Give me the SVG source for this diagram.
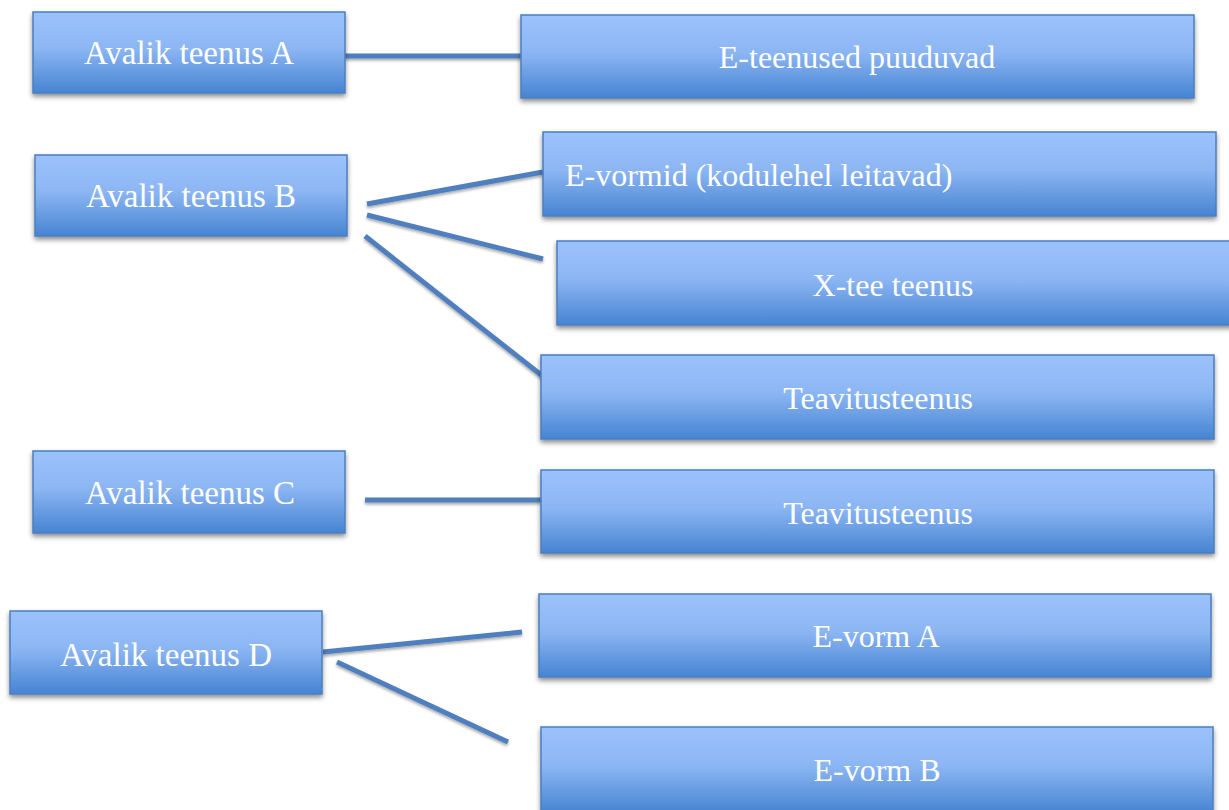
<svg xmlns="http://www.w3.org/2000/svg" width="1229" height="810" viewBox="0 0 1229 810">
<defs>
<linearGradient id="g" x1="0" y1="0" x2="0" y2="1">
<stop offset="0" stop-color="#9cc2fc"/>
<stop offset="0.45" stop-color="#8cb6f3"/>
<stop offset="1" stop-color="#4684d2"/>
</linearGradient>
<filter id="sh" x="-5%" y="-10%" width="110%" height="130%">
<feGaussianBlur in="SourceAlpha" stdDeviation="2.5"/>
<feOffset dx="0" dy="3" result="b"/>
<feComponentTransfer><feFuncA type="linear" slope="0.45"/></feComponentTransfer>
<feMerge><feMergeNode/><feMergeNode in="SourceGraphic"/></feMerge>
</filter>
<filter id="lsh" filterUnits="userSpaceOnUse" x="0" y="0" width="1229" height="810">
<feGaussianBlur in="SourceAlpha" stdDeviation="1.5"/>
<feOffset dx="0" dy="2" result="b"/>
<feComponentTransfer><feFuncA type="linear" slope="0.35"/></feComponentTransfer>
<feMerge><feMergeNode/><feMergeNode in="SourceGraphic"/></feMerge>
</filter>
</defs>
<style>
.box{fill:url(#g);stroke:#4a7fc0;stroke-width:1.5;filter:url(#sh)}
.t{font-family:"Liberation Serif","Times New Roman",serif;font-size:33px;fill:#ffffff;text-anchor:middle}
.r{font-size:32px}
.tl{text-anchor:start}
.c{stroke:#4f7fbe;stroke-width:5;fill:none;stroke-linecap:butt}
</style>
<rect width="1229" height="810" fill="#ffffff"/>
<g id="connectors" filter="url(#lsh)">
<line class="c" x1="345" y1="56" x2="521" y2="56"/>
<line class="c" x1="367" y1="204" x2="543" y2="172"/>
<line class="c" x1="367" y1="215" x2="543" y2="259"/>
<line class="c" x1="365" y1="236" x2="545" y2="378"/>
<line class="c" x1="365" y1="500" x2="541" y2="500"/>
<line class="c" x1="323" y1="652" x2="522" y2="632"/>
<line class="c" x1="337" y1="662" x2="508" y2="742"/>
</g>
<g id="nodeA"><rect class="box" x="33" y="12" width="312" height="81"/><text class="t" x="189" y="64">Avalik teenus A</text></g>
<g id="nodeE1"><rect class="box" x="521" y="15" width="673" height="83"/><text class="t r" x="857" y="68">E-teenused puuduvad</text></g>
<g id="nodeB"><rect class="box" x="35" y="155" width="312" height="81"/><text class="t" x="191" y="207">Avalik teenus B</text></g>
<g id="nodeEvormid"><rect class="box" x="543" y="132" width="673" height="84"/><text class="t r tl" x="565" y="186">E-vormid (kodulehel leitavad)</text></g>
<g id="nodeXtee"><rect class="box" x="557" y="241" width="676" height="84"/><text class="t r" x="893" y="296">X-tee teenus</text></g>
<g id="nodeTeav1"><rect class="box" x="541" y="355" width="673" height="84"/><text class="t r" x="878" y="409">Teavitusteenus</text></g>
<g id="nodeC"><rect class="box" x="33" y="451" width="312" height="82"/><text class="t" x="190" y="504">Avalik teenus C</text></g>
<g id="nodeTeav2"><rect class="box" x="541" y="470" width="673" height="83"/><text class="t r" x="878" y="524">Teavitusteenus</text></g>
<g id="nodeD"><rect class="box" x="10" y="611" width="312" height="83"/><text class="t" x="166" y="666">Avalik teenus D</text></g>
<g id="nodeEvormA"><rect class="box" x="539" y="594" width="672" height="83"/><text class="t r" x="876" y="647">E-vorm A</text></g>
<g id="nodeEvormB"><rect class="box" x="541" y="727" width="672" height="86"/><text class="t r" x="877" y="781">E-vorm B</text></g>
</svg>
